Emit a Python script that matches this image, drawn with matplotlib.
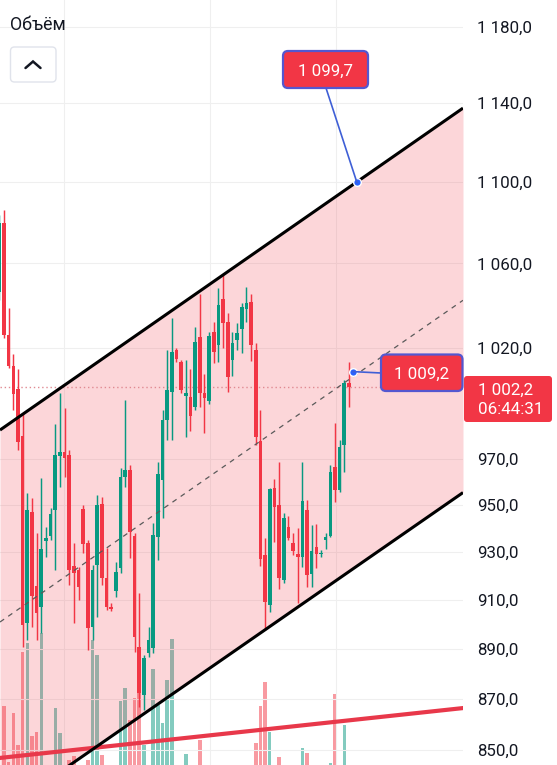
import matplotlib
matplotlib.use("Agg")
import matplotlib.pyplot as plt
import numpy as np
from matplotlib.patches import FancyBboxPatch
from matplotlib.lines import Line2D
from matplotlib.transforms import IdentityTransform
from matplotlib.ticker import FixedLocator, FixedFormatter, NullLocator

plt.rcParams['font.family'] = ['Roboto', 'DejaVu Sans']

# ---------------- data ----------------
opens = [1046.3, 1079.6, 1026.1, 1011.7, 1001.3, 980.1, 900.4, 946.9, 915.6, 907.0,
         934.5, 936.6, 947.8, 971.3, 973.0, 971.7, 924.0, 922.3, 948.2, 933.7,
         898.8, 924.4, 950.4, 919.0, 907.0, 913.5, 923.2, 962.0, 965.1, 936.6,
         890.6, 871.5, 888.2, 890.2, 936.2, 960.7, 987.3, 999.9, 1019.1, 1013.6,
         998.1, 997.7, 993.1, 1025.1, 999.5, 995.9, 1027.5, 1021.4, 1043.0, 1032.1,
         1014.5, 1023.8, 1028.8, 1038.2, 1041.6, 1019.1, 977.9, 928.6, 907.8, 957.3,
         950.0, 918.1, 940.5, 933.7, 929.0, 927.8, 947.8, 920.6, 931.9, 929.0,
         935.0, 936.6, 966.4, 956.5, 976.1, 1004.0]
highs = [1083.6, 1086.0, 1038.7, 1017.3, 1010.4, 990.4, 955.1, 953.0, 937.9, 961.6,
         940.5, 948.6, 985.4, 999.5, 992.7, 973.9, 933.7, 923.6, 950.0, 935.1,
         924.4, 954.3, 953.4, 931.5, 908.6, 925.7, 966.0, 996.3, 967.3, 937.9,
         912.7, 887.4, 898.8, 942.2, 968.6, 991.8, 1019.1, 1034.0, 1020.0, 1014.5,
         1014.5, 1010.4, 1029.8, 1045.6, 1008.1, 1027.5, 1032.1, 1048.2, 1054.4, 1036.4,
         1027.5, 1031.6, 1041.1, 1048.7, 1045.3, 1022.3, 991.8, 935.8, 957.3, 961.2,
         968.6, 946.5, 945.2, 937.9, 940.0, 968.6, 952.1, 941.3, 941.7, 930.7,
         937.9, 967.3, 985.9, 978.3, 1005.3, 1013.6]
lows = [1042.5, 1024.7, 1010.8, 991.8, 973.9, 890.6, 893.5, 898.8, 893.5, 896.3,
        927.8, 935.1, 922.3, 957.7, 962.0, 916.0, 900.4, 909.8, 929.4, 889.4,
        893.5, 902.8, 916.0, 905.7, 905.3, 911.0, 921.0, 957.7, 927.4, 888.6,
        866.8, 865.6, 886.6, 888.2, 926.5, 944.3, 978.3, 978.3, 1013.6, 999.5,
        979.7, 982.3, 991.8, 993.1, 981.4, 994.5, 1013.1, 1013.6, 1020.0, 999.9,
        1007.2, 1019.1, 1017.7, 1032.1, 1014.0, 976.1, 924.0, 897.6, 904.9, 934.1,
        914.4, 916.9, 935.0, 928.6, 908.6, 923.6, 915.2, 915.2, 923.2, 927.8,
        931.1, 936.2, 951.2, 955.6, 964.2, 993.1]
closes = [1079.6, 1026.1, 1011.7, 999.0, 977.5, 899.6, 947.8, 911.5, 904.5, 931.1,
          935.8, 946.0, 971.7, 973.0, 970.4, 922.3, 921.0, 915.2, 933.2, 898.4,
          922.3, 950.0, 919.0, 907.0, 906.1, 921.5, 962.0, 965.1, 938.3, 894.7,
          872.3, 886.2, 893.5, 937.0, 963.3, 987.3, 1000.8, 1018.2, 1015.0, 1000.8,
          999.5, 989.1, 1022.8, 999.5, 997.2, 1025.6, 1018.2, 1040.1, 1031.6, 1006.7,
          1022.3, 1027.0, 1039.1, 1041.1, 1021.4, 979.7, 926.9, 909.0, 956.9, 949.1,
          919.0, 944.3, 935.8, 930.3, 927.8, 951.7, 920.2, 930.3, 929.0, 929.4,
          936.2, 964.2, 956.5, 975.2, 1004.0, 1002.2]
volumes = [15, 94, 38, 87, 55, 148, 157, 64, 68, 167,
           15, 15, 92, 67, 25, 40, 44, 20, 20, 40,
           160, 145, 45, 20, 20, 25, 99, 112, 80, 102,
           110, 55, 35, 131, 95, 77, 120, 161, 30, 20,
           46, 15, 15, 60, 15, 15, 15, 15, 15, 15,
           15, 15, 15, 15, 15, 57, 94, 118, 68, 20,
           43, 15, 15, 15, 15, 52, 47, 15, 15, 15,
           15, 37, 106, 15, 75, 20]
vol_ma_idx = [0.0, 99.6]
vol_ma = [42, 92]

channel_idx = [0.142, 99.46]
channel_upper = [982.8, 1137.4]
channel_lower = [825.8, 955.3]
channel_mid = [900.8, 1042.4]

tick_vals = [1180, 1140, 1100, 1060, 1020, 970, 950, 930, 910, 890, 870, 850]
tick_labels = ["1 180,0", "1 140,0", "1 100,0", "1 060,0", "1 020,0", "970,0",
               "950,0", "930,0", "910,0", "890,0", "870,0", "850,0"]
vgrid_idx = [13.87, 45.2, 72.2]

last_price = 1002.2
last_price_label = "1 002,2"
countdown = "06:44:31"
note_idx = [76.7, 75.9]
note_vals = [1099.7, 1009.2]
note_labels = ["1 099,7", "1 009,2"]
volume_title = "Объём"

# ---------------- style ----------------
GREEN = '#089981'
RED = '#f23645'
W, H = 557, 765
PW = 463
X_LEFT, X_RIGHT = 0.142, 99.46
Y_BOT, Y_TOP = 844.2, 1194.6

fig = plt.figure(figsize=(W / 100, H / 100), dpi=100)
fig.patch.set_facecolor('white')

# volume pane (baseline below the visible picture)
vax = fig.add_axes([0, -35 / H, PW / W, 200 / H], zorder=0)
vax.set_xlim(X_LEFT, X_RIGHT)
vax.set_ylim(0, 200)
vax.axis('off')

ax = fig.add_axes([0, 0, PW / W, 1], zorder=1)
ax.patch.set_visible(False)
ax.set_yscale('log')

idx = np.arange(len(opens))
o = np.array(opens); c = np.array(closes)
hi = np.array(highs); lo = np.array(lows)
up = c >= o
cols = np.where(up, GREEN, RED)

vol_cols = [(8/255, 153/255, 129/255, 0.5) if u else (242/255, 54/255, 69/255, 0.5) for u in up]
vax.bar(idx, volumes, width=0.76, color=vol_cols, linewidth=0)

# grid
for t in tick_vals:
    ax.axhline(t, color='#efefef', lw=0.8, zorder=0.5)
for g in vgrid_idx:
    ax.axvline(g, color='#efefef', lw=0.8, zorder=0.5)

# channel
ax.fill_between(channel_idx, channel_lower, channel_upper,
                color=(242/255, 54/255, 69/255, 0.2), lw=0, zorder=2)
ax.plot(vol_ma_idx, vol_ma, transform=vax.transData, color='#e8384a', lw=3.0,
        solid_capstyle='butt', zorder=2.5)
ax.axhline(last_price, color='#e08a92', lw=1.0, linestyle=(0, (1, 2)), zorder=2.6)

# candles
ax.vlines(idx, lo, hi, colors=cols, lw=1.05, zorder=3)
bottoms = np.minimum(o, c)
heights = np.maximum(np.abs(c - o), 0.6)
ax.bar(idx, heights, bottom=bottoms, width=0.78, color=cols, linewidth=0, zorder=4)

ax.plot(channel_idx, channel_upper, color='black', lw=2.2, zorder=5, solid_capstyle='butt')
ax.plot(channel_idx, channel_lower, color='black', lw=2.2, zorder=5, solid_capstyle='butt')
ax.plot(channel_idx, channel_mid, color='#5a5a5a', lw=0.9, dashes=(4, 4), zorder=5)

ax.set_xlim(X_LEFT, X_RIGHT)
ax.set_ylim(Y_BOT, Y_TOP)
ax.set_xticks([])
for s in ax.spines.values():
    s.set_visible(False)
ax.yaxis.tick_right()
ax.yaxis.set_major_locator(FixedLocator(tick_vals))
ax.yaxis.set_major_formatter(FixedFormatter(tick_labels))
ax.yaxis.set_minor_locator(NullLocator())
ax.tick_params(axis='y', which='both', length=0, pad=10.1, labelsize=12.2,
               labelcolor='#131722')

# annotation dots
ax.plot(note_idx, note_vals, 'o', ms=5.5, color='#2962ff', mec='white', mew=1.0,
        zorder=8, clip_on=False)

ID = IdentityTransform()


def rbox(x0, y0, x1, y1, fc, ec, lw, r, z=10):
    p = FancyBboxPatch((x0, H - y1), x1 - x0, y1 - y0,
                       boxstyle=f"round,pad=0,rounding_size={r}",
                       fc=fc, ec=ec, lw=lw, transform=ID, zorder=z)
    fig.add_artist(p)


def ptxt(x, y, s, **kw):
    fig.text(x, H - y, s, transform=ID, **kw)


fig.canvas.draw()
d1 = ax.transData.transform((note_idx[0], note_vals[0]))
d2 = ax.transData.transform((note_idx[1], note_vals[1]))
LINE_C = '#3f5fd6'
fig.add_artist(Line2D([d1[0], 326], [d1[1], H - 88], color=LINE_C, lw=1.2,
                      transform=ID, zorder=9))
fig.add_artist(Line2D([d2[0], 381], [d2[1], H - 373], color=LINE_C, lw=1.2,
                      transform=ID, zorder=9))

# note boxes
rbox(283, 51, 368, 88, RED, '#5457d0', 1.6, 5)
ptxt(325.5, 76, note_labels[0], ha='center', va='baseline', color='white', fontsize=12.2, zorder=11)
rbox(381, 354.5, 462.5, 391, RED, '#5457d0', 1.6, 5)
ptxt(422, 379, note_labels[1], ha='center', va='baseline', color='white', fontsize=12.2, zorder=11)

# last price tag
rbox(464, 376, 552, 422, RED, 'none', 0, 3)
ptxt(478, 395, last_price_label, ha='left', va='baseline', color='white', fontsize=12.2, zorder=11)
ptxt(478, 413.5, countdown, ha='left', va='baseline', color='white', fontsize=12.2, zorder=11)

# volume title & collapse button
ptxt(10, 29.5, volume_title, ha='left', va='baseline', color='#131722', fontsize=12.8, zorder=11)
rbox(10.5, 47, 56, 82, 'white', '#e0e3eb', 1.0, 4)
fig.add_artist(Line2D([25.5, 33, 40.5], [H - 68, H - 61.5, H - 68], color='#131722',
                      lw=1.8, transform=ID, zorder=11, solid_capstyle='round',
                      solid_joinstyle='miter'))

fig.savefig('out.png', dpi=100, facecolor='white')
